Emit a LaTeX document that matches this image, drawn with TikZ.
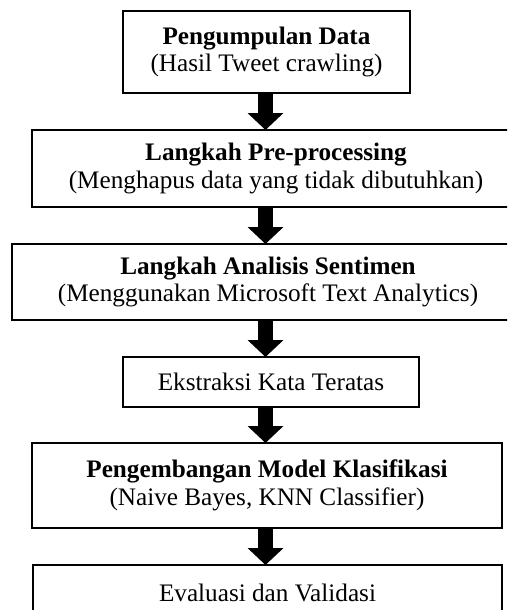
\documentclass[tikz,border=0pt]{standalone}
\usepackage{fontspec}
\setmainfont{Liberation Serif}
\usetikzlibrary{arrows.meta}
\begin{document}
\begin{tikzpicture}[x=1pt,y=-1pt,
  stage/.style={draw, line width=2.2pt, outer sep=0pt, inner sep=0pt, align=center,
    font=\fontsize{25.2}{27.5}\selectfont},
  flow/.style={draw, line width=15pt, -{Triangle[width=35pt,length=17pt]}}]
  \clip (0,0) rectangle (507,610);
  \fill[white] (0,0) rectangle (507,610);
  \coordinate (ax) at (265.5,0);

  \node[stage, minimum width=287pt, minimum height=82pt] (b1) at (266.5,52)
    {\textbf{Pengumpulan Data}\\(Hasil Tweet crawling)};
  \node[stage, minimum width=488pt, minimum height=77pt] (b2) at (276,168.5)
    {\textbf{Langkah Pre-processing}\\(Menghapus data yang tidak dibutuhkan)};
  \node[stage, minimum width=512pt, minimum height=76pt] (b3) at (268,282)
    {\textbf{Langkah Analisis Sentimen}\\(Menggunakan Microsoft Text Analytics)};
  \node[stage, minimum width=296pt, minimum height=50pt] (b4) at (271,382)
    {Ekstraksi Kata Teratas};
  \node[stage, minimum width=470pt, minimum height=85pt] (b5) at (267,485.5)
    {\textbf{Pengembangan Model Klasifikasi}\\(Naive Bayes, KNN Classifier)};
  \node[stage, minimum width=469pt, minimum height=55pt] (b6) at (267.5,592.5)
    {Evaluasi dan Validasi};

  \draw[flow] (b1.south -| ax) -- (b2.north -| ax);
  \draw[flow] (b2.south -| ax) -- (b3.north -| ax);
  \draw[flow] (b3.south -| ax) -- (b4.north -| ax);
  \draw[flow] (b4.south -| ax) -- (b5.north -| ax);
  \draw[flow] (b5.south -| ax) -- (b6.north -| ax);
\end{tikzpicture}
\end{document}
